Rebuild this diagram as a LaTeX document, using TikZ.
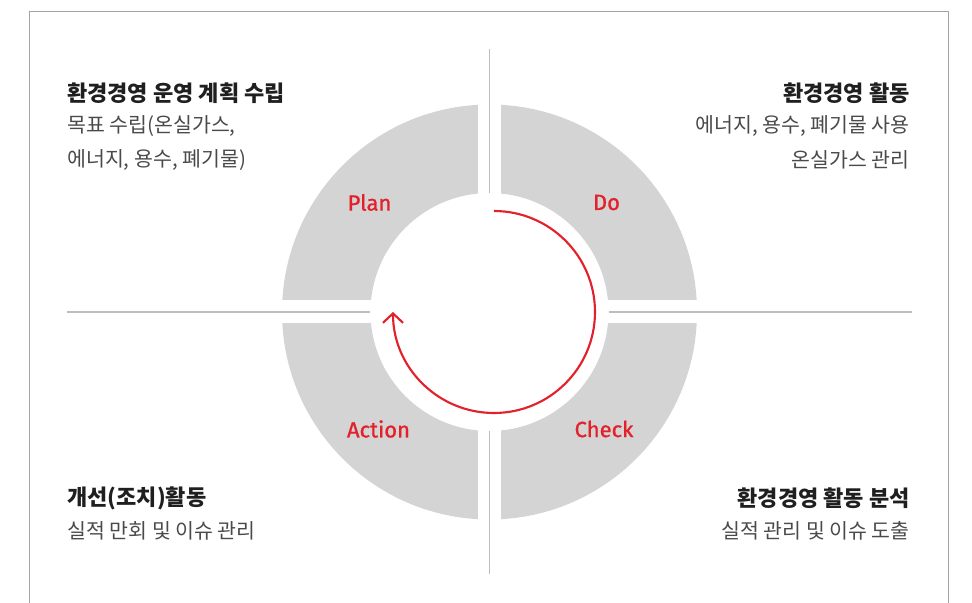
\documentclass[tikz,border=0pt]{standalone}
\usepackage{fontspec}
\setmainfont{Noto Sans CJK KR}
\newfontfamily\pdcafont[FakeBold=1]{Fira Sans}
\usetikzlibrary{arrows.meta}
\definecolor{ringgray}{HTML}{D4D4D4}
\definecolor{linegray}{HTML}{BDBDBD}
\definecolor{framegray}{HTML}{A3A3A3}
\definecolor{pdcared}{HTML}{E3212B}
\definecolor{bodygray}{HTML}{4A4A4A}

\begin{document}
\begin{tikzpicture}[x=0.75pt, y=0.75pt,
	title text/.style={font=\fontsize{16.5}{19}\selectfont\bfseries, text=black!88, inner sep=0pt},
	body text/.style={font=\fontsize{15.4}{18}\selectfont, text=bodygray, inner sep=0pt},
	stage label/.style={font=\pdcafont\fontsize{16.5}{20}\selectfont, text=pdcared, inner sep=0pt}]

	\useasboundingbox (-489.5,-291) rectangle (482.5,312);

	% frame
	\draw[framegray, line width=1pt] (-460,-291) |- (458.8,300.3) -- (458.8,-291);

	% grey ring, cut in four
	\fill[ringgray, even odd rule] (0,0) circle (207.5) (0,0) circle (119);
	\fill[white] (-215,-11.5) rectangle (215,11.5);
	\fill[white] (-11.5,-215) rectangle (11.5,215);

	% dividers
	\draw[linegray, line width=1pt] (-422.5,0) -- (-119.5,0) (119.5,0) -- (422,0);
	\draw[linegray, line width=1pt] (0,263) -- (0,119) (0,-119) -- (0,-262);

	% cycle arrow
	\draw[pdcared, line width=1.6pt, -{Straight Barb[length=7pt,width=15pt]}]
		(4.5,101) arc[start angle=90, end angle=-180, radius=101];

	% stage labels
	\foreach \name/\x/\y/\txt in {plan/-120/109.5/Plan, do/117/109.5/Do,
		check/114.5/-117/Check, action/-111/-117/Action}
		\node[stage label] (\name) at (\x,\y) {\txt};

	% plan
	\node[title text, anchor=west] (plan title) at (-422.5,219) {환경경영 운영 계획 수립};
	\node[body text, anchor=west] (plan line1) at (-422.5,186) {목표 수립(온실가스,};
	\node[body text, anchor=west] (plan line2) at (-422.5,152) {에너지, 용수, 폐기물)};

	% do
	\node[title text, anchor=east] (do title) at (420.5,219) {환경경영 활동};
	\node[body text, anchor=east] (do line1) at (420.5,186) {에너지, 용수, 폐기물 사용};
	\node[body text, anchor=east] (do line2) at (420.5,152) {온실가스 관리};

	% action
	\node[title text, anchor=west] (action title) at (-422.5,-186) {개선(조치)활동};
	\node[body text, anchor=west] (action line1) at (-422.5,-219) {실적 만회 및 이슈 관리};

	% check
	\node[title text, anchor=east] (check title) at (420.5,-186) {환경경영 활동 분석};
	\node[body text, anchor=east] (check line1) at (420.5,-219) {실적 관리 및 이슈 도출};
\end{tikzpicture}
\end{document}
